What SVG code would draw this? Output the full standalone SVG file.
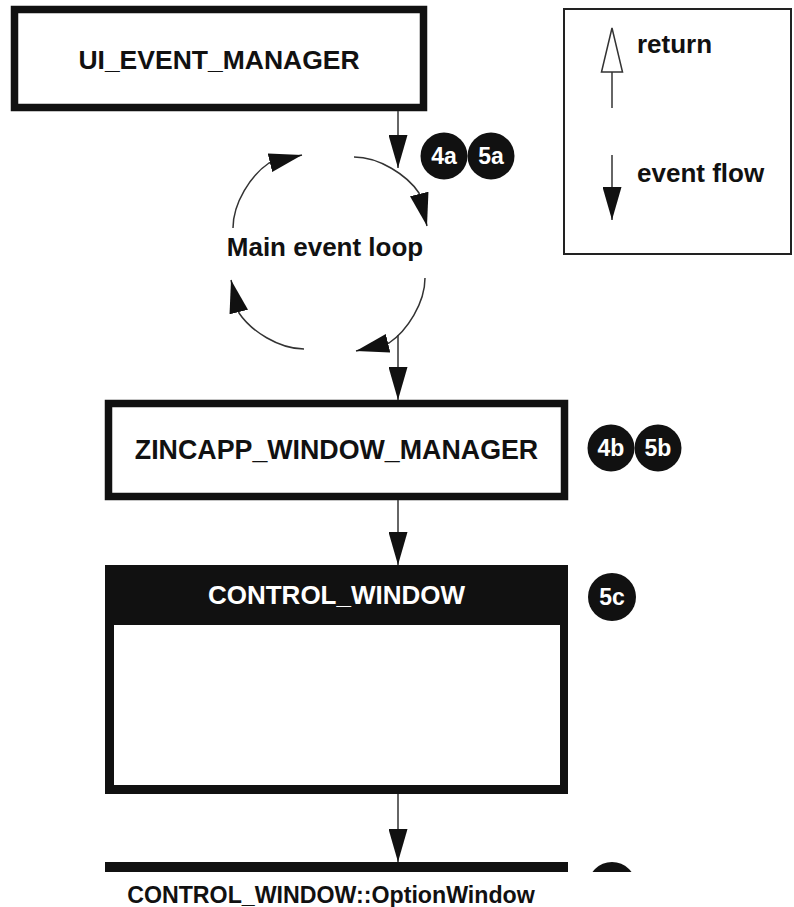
<svg xmlns="http://www.w3.org/2000/svg" width="794" height="907" viewBox="0 0 794 907">
<defs>
<style>
.lbl{font-family:"Liberation Sans",Arial,Helvetica,sans-serif;font-weight:bold;fill:#111}
.wlbl{font-family:"Liberation Sans",Arial,Helvetica,sans-serif;font-weight:bold;fill:#fff}
.box{fill:#fff;stroke:#111;stroke-width:7.5}
.conn{fill:none;stroke:#333;stroke-width:1.5}
.badge{fill:#111}
</style>
<marker id="ah" viewBox="0 0 33 19" refX="33" refY="9.5" markerWidth="33" markerHeight="19" markerUnits="userSpaceOnUse" orient="auto">
<path d="M0,0 L33,9.5 L0,19 z" fill="#111"/>
</marker>
<marker id="ahOpen" viewBox="-1 -1 46 23" refX="0" refY="10.5" markerWidth="46" markerHeight="23" markerUnits="userSpaceOnUse" orient="auto" overflow="visible">
<path d="M0,0 L44,10.5 L0,21 z" fill="#fff" stroke="#333" stroke-width="1.5"/>
</marker>
<clipPath id="cut"><rect x="0" y="0" width="794" height="872"/></clipPath>
</defs>
<rect x="0" y="0" width="794" height="907" fill="#fff"/>

<g id="ui_event_manager">
<rect class="box" x="14.5" y="9.5" width="409" height="98"/>
<text class="lbl" x="219" y="69" font-size="26.5" text-anchor="middle">UI_EVENT_MANAGER</text>
</g>

<g id="badges_4a_5a">
<circle class="badge" cx="444" cy="156" r="23.5"/>
<circle class="badge" cx="491" cy="156" r="23.5"/>
<text class="wlbl" x="444" y="164" font-size="23" text-anchor="middle">4a</text>
<text class="wlbl" x="491" y="164" font-size="23" text-anchor="middle">5a</text>
</g>

<g id="legend">
<rect x="564" y="9" width="227" height="245" fill="none" stroke="#222" stroke-width="2"/>
<path class="conn" d="M612,108 L612,72" marker-end="url(#ahOpen)"/>
<text class="lbl" x="637" y="53" font-size="26">return</text>
<path class="conn" d="M612,155 L612,220" marker-end="url(#ah)"/>
<text class="lbl" x="637" y="182" font-size="26">event flow</text>
</g>

<g id="main_event_loop">
<text class="lbl" x="325" y="256" font-size="26" text-anchor="middle">Main event loop</text>
</g>

<g id="zincapp_window_manager">
<rect class="box" x="108.5" y="403.5" width="456" height="93"/>
<text class="lbl" x="336.5" y="459" font-size="26.8" text-anchor="middle">ZINCAPP_WINDOW_MANAGER</text>
</g>

<g id="badges_4b_5b">
<circle class="badge" cx="611" cy="448" r="23.5"/>
<circle class="badge" cx="658" cy="448" r="23.5"/>
<text class="wlbl" x="611" y="456" font-size="23" text-anchor="middle">4b</text>
<text class="wlbl" x="658" y="456" font-size="23" text-anchor="middle">5b</text>
</g>

<g id="control_window">
<rect x="105" y="565" width="463" height="229" fill="#111"/>
<rect x="114" y="625" width="446" height="160" fill="#fff"/>
<text class="wlbl" x="336.5" y="604" font-size="26" text-anchor="middle">CONTROL_WINDOW</text>
</g>

<g id="badge_5c">
<circle class="badge" cx="612" cy="597" r="24"/>
<text class="wlbl" x="612" y="605" font-size="23" text-anchor="middle">5c</text>
</g>

<g id="option_window" clip-path="url(#cut)">
<rect x="105" y="862" width="463" height="30" fill="#111"/>
<circle class="badge" cx="612" cy="886" r="24"/>
</g>

<g id="caption">
<text class="lbl" x="331" y="903" font-size="23.2" text-anchor="middle">CONTROL_WINDOW::OptionWindow</text>
</g>

<g id="connectors">
<path class="conn" d="M398,111 L398,168" marker-end="url(#ah)"/>
<path class="conn" d="M425,278 C425,303 407,331 389,343 L356,351" marker-end="url(#ah)"/>
<path class="conn" d="M425,278 C425,303 407,331 389,343 L356,351" marker-end="url(#ah)" transform="rotate(90 329 253)"/>
<path class="conn" d="M425,278 C425,303 407,331 389,343 L356,351" marker-end="url(#ah)" transform="rotate(180 329 253)"/>
<path class="conn" d="M425,278 C425,303 407,331 389,343 L356,351" marker-end="url(#ah)" transform="rotate(270 329 253)"/>
<path class="conn" d="M398,335 L398,400" marker-end="url(#ah)"/>
<path class="conn" d="M398,500 L398,565" marker-end="url(#ah)"/>
<path class="conn" d="M398,794 L398,862" marker-end="url(#ah)"/>
</g>
</svg>
